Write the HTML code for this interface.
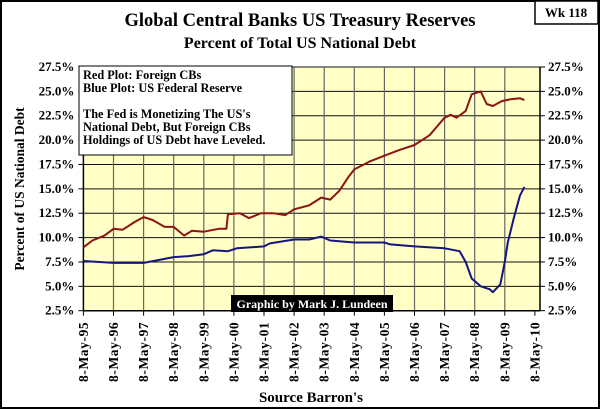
<!DOCTYPE html>
<html><head><meta charset="utf-8"><style>
html,body{margin:0;padding:0;background:#fff}
svg{display:block}
text{font-family:"Liberation Serif",serif;font-weight:bold}
</style></head><body>
<svg id="chart" width="600" height="409" viewBox="0 0 600 409">
<rect x="1" y="1" width="598" height="407" fill="#fff" stroke="#000" stroke-width="2"/>
<g><rect x="535" y="1" width="63" height="23" fill="#fff" stroke="#000" stroke-width="1.5"/><text x="566" y="17" text-anchor="middle" font-size="13">Wk 118</text></g>
<text x="300" y="26" text-anchor="middle" font-size="18.5">Global Central Banks US Treasury Reserves</text>
<text x="300" y="48" text-anchor="middle" font-size="16">Percent of Total US National Debt</text>
<rect x="83" y="67" width="457" height="243.7" fill="#ffffc6"/>
<g id="grid"></g>
<g id="axes"></g>
<g id="series"></g>
<text transform="translate(24,189) rotate(-90)" text-anchor="middle" font-size="13.5">Percent of US National Debt</text>
<text x="311" y="402" text-anchor="middle" font-size="15">Source Barron's</text>
<g>
<rect x="79" y="66" width="213" height="89" fill="#fff" stroke="#000" stroke-width="1"/>
<text font-size="12.3" x="83"><tspan x="83" y="79">Red Plot: Foreign CBs</tspan><tspan x="83" y="92">Blue Plot: US Federal Reserve</tspan><tspan x="83" y="118">The Fed is Monetizing The US's</tspan><tspan x="83" y="131">National Debt, But Foreign CBs</tspan><tspan x="83" y="144">Holdings of US Debt have Leveled.</tspan></text>
</g>
<g><rect x="231" y="295" width="162" height="17" fill="#000"/><text x="312" y="308" text-anchor="middle" font-size="12" fill="#fff">Graphic by Mark J. Lundeen</text></g>
</svg>
<script>
const xLabels=["8-May-95","8-May-96","8-May-97","8-May-98","8-May-99","8-May-00","8-May-01","8-May-02","8-May-03","8-May-04","8-May-05","8-May-06","8-May-07","8-May-08","8-May-09","8-May-10"];
const yTicks=[2.5,5,7.5,10,12.5,15,17.5,20,22.5,25,27.5];
const redT=[0,0.3,0.7,1.0,1.3,1.7,2.0,2.3,2.7,3.0,3.35,3.6,4.0,4.5,4.75,4.8,5.2,5.5,5.9,6.3,6.7,7.0,7.5,7.9,8.2,8.5,8.8,9.0,9.5,10.0,10.5,11.0,11.5,12.0,12.2,12.4,12.7,12.9,13.2,13.4,13.6,13.9,14.2,14.5,14.65];
const redV=[9.0,9.7,10.2,10.9,10.8,11.6,12.1,11.8,11.1,11.1,10.2,10.7,10.6,10.9,10.9,12.4,12.5,12.0,12.5,12.5,12.3,12.9,13.3,14.1,13.9,14.8,16.2,17.0,17.8,18.4,19.0,19.5,20.5,22.3,22.6,22.3,23.0,24.7,25.0,23.7,23.5,24.0,24.2,24.3,24.1];
const blueT=[0,1,2,2.5,3,3.5,4,4.3,4.8,5.1,6,6.2,7,7.5,7.9,8.2,9,10,10.2,11,12,12.5,12.7,12.9,13.2,13.5,13.6,13.85,14.0,14.1,14.3,14.5,14.65];
const blueV=[7.6,7.4,7.4,7.7,8.0,8.1,8.3,8.7,8.6,8.9,9.1,9.4,9.8,9.8,10.1,9.7,9.5,9.5,9.3,9.1,8.9,8.6,7.5,5.8,5.0,4.7,4.4,5.2,7.5,9.5,12.0,14.3,15.2];
const NS="http://www.w3.org/2000/svg";
const X0=83.4,XW=30.1,YT=67,YB=310.7,VMIN=2.5,VMAX=27.5;
const x=t=>X0+t*XW;
const y=v=>YB-(v-VMIN)/(VMAX-VMIN)*(YB-YT);
function mk(tag,attrs,parent){const e=document.createElementNS(NS,tag);for(const k in attrs)e.setAttribute(k,attrs[k]);parent.appendChild(e);return e;}
const grid=document.getElementById('grid'),axes=document.getElementById('axes'),series=document.getElementById('series');
yTicks.forEach((v,i)=>{
  const l=mk('line',{x1:X0,x2:540,y1:y(v),y2:y(v),stroke:'#111','stroke-width':1},grid);
  
  
  mk('line',{x1:X0-5,x2:X0,y1:y(v),y2:y(v),stroke:'#000'},axes);
  mk('line',{x1:540,x2:545,y1:y(v),y2:y(v),stroke:'#000'},axes);
  const lab=(v.toFixed(1))+'%';
  const a=mk('text',{x:X0-9,y:y(v)+4,'text-anchor':'end','font-size':13},axes);a.textContent=lab;
  
  
  const b=mk('text',{x:548,y:y(v)+4,'font-size':13},axes);b.textContent=lab;
  
  
});
xLabels.forEach((s,i)=>{
  const xx=x(i);
  if(i>0&&i<15){const g=mk('line',{x1:xx,x2:xx,y1:YT,y2:YB,stroke:'#666','stroke-width':1.2},grid);
  
  }
  mk('line',{x1:xx,x2:xx,y1:YB,y2:YB+5,stroke:'#000'},axes);
  const t=mk('text',{transform:`translate(${xx+4.5},${YB+11}) rotate(-90)`,'text-anchor':'end','font-size':13.5,'letter-spacing':0.6},axes);t.textContent=s;
  
  
});
mk('line',{x1:X0,x2:X0,y1:YT,y2:YB,stroke:'#000','stroke-width':1.5},axes);
mk('line',{x1:540,x2:540,y1:YT,y2:YB,stroke:'#000','stroke-width':1.5},axes);
mk('line',{x1:X0,x2:540,y1:YB,y2:YB,stroke:'#000','stroke-width':1.5},axes);
function path(T,V,c,name){
  const d=T.map((t,i)=>(i?'L':'M')+x(t).toFixed(1)+','+y(V[i]).toFixed(1)).join('');
  const p=mk('path',{d:d,fill:'none',stroke:c,'stroke-width':2,'stroke-linejoin':'round'},series);
  
  
}
path(redT,redV,'#8b1414','red-line-foreign-cbs');
path(blueT,blueV,'#15157f','blue-line-federal-reserve');
</script>
</body></html>
